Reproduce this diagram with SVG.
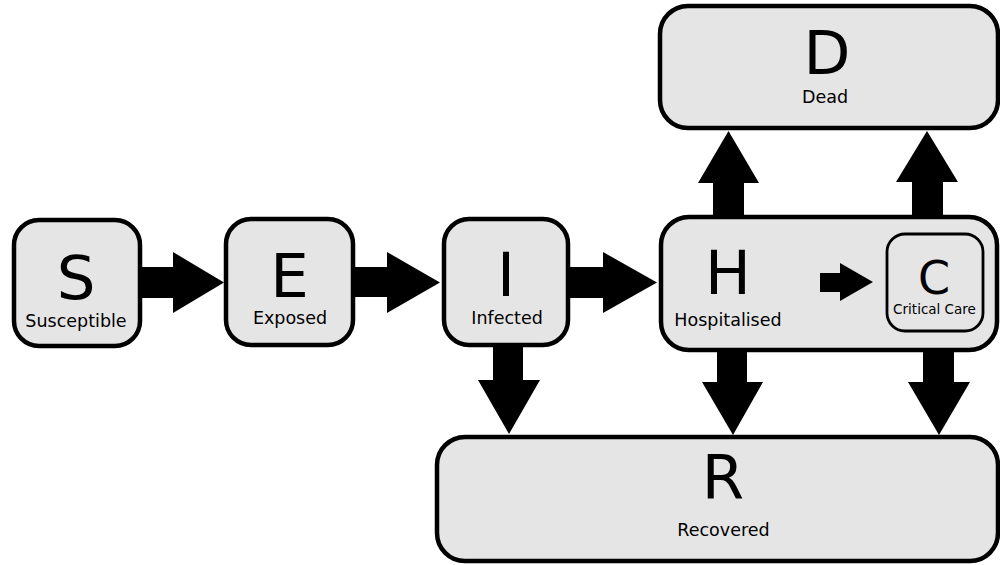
<svg xmlns="http://www.w3.org/2000/svg" width="1000" height="565" viewBox="0 0 1000 565">
<style>
.box{fill:#e5e5e5;stroke:#000;stroke-width:4.5}
.inner{fill:#e5e5e5;stroke:#000;stroke-width:2.8}
.big{font-family:"DejaVu Sans",sans-serif;font-size:61px;text-anchor:middle;fill:#000}
.lbl{font-family:"DejaVu Sans",sans-serif;font-size:17.5px;text-anchor:middle;fill:#000}
.arr{fill:#000}
</style>
<rect width="1000" height="565" fill="#fff"/>
<g id="connectors">
<polygon class="arr" points="141,267 173,267 173,252 224,282.5 173,313 173,298 141,298"/>
<polygon class="arr" points="355,267 387,267 387,252 440,282.5 387,313 387,297 355,297"/>
<polygon class="arr" points="570,267 603,267 603,252 657,282.5 603,313 603,298 570,298"/>
<polygon class="arr" points="713,216 713,183 698,183 728.5,131 759,183 744,183 744,216"/>
<polygon class="arr" points="912,216 912,182 896,182 927,131 958,182 943,182 943,216"/>
<polygon class="arr" points="493,346 493,380 478,380 509,434 540,380 523,380 523,346"/>
<polygon class="arr" points="717,349 717,382 702,382 733,435 763,382 747,382 747,349"/>
<polygon class="arr" points="923,349 923,382 908,382 939,435 970,382 954,382 954,349"/>
</g>
<g id="node-S">
<rect class="box" x="14" y="220" width="126" height="126" rx="25"/>
<text class="big" x="76" y="299">S</text>
<text class="lbl" x="76" y="327">Susceptible</text>
</g>
<g id="node-E">
<rect class="box" x="226" y="219" width="127" height="126" rx="25"/>
<text class="big" x="289.5" y="297">E</text>
<text class="lbl" x="290" y="324">Exposed</text>
</g>
<g id="node-I">
<rect class="box" x="444" y="219" width="124" height="126" rx="25"/>
<text class="big" x="506" y="296">I</text>
<text class="lbl" x="507" y="324">Infected</text>
</g>
<g id="node-H">
<rect class="box" x="661" y="217" width="336" height="133" rx="28"/>
<text class="big" x="728" y="294">H</text>
<text class="lbl" x="728" y="326">Hospitalised</text>
<polygon class="arr" points="820,273 840,273 840,263 873,282 840,301 840,292 820,292"/>
</g>
<g id="node-C">
<rect class="inner" x="887" y="234" width="96" height="97" rx="18"/>
<text class="big" x="934" y="294" style="font-size:46px">C</text>
<text class="lbl" x="934.5" y="314" style="font-size:13.5px">Critical Care</text>
</g>
<g id="node-D">
<rect class="box" x="660" y="6" width="338" height="122" rx="28"/>
<text class="big" x="827" y="74">D</text>
<text class="lbl" x="825" y="103">Dead</text>
</g>
<g id="node-R">
<rect class="box" x="437" y="437" width="561" height="124" rx="28"/>
<text class="big" x="723" y="499">R</text>
<text class="lbl" x="723.5" y="536">Recovered</text>
</g>
</svg>
